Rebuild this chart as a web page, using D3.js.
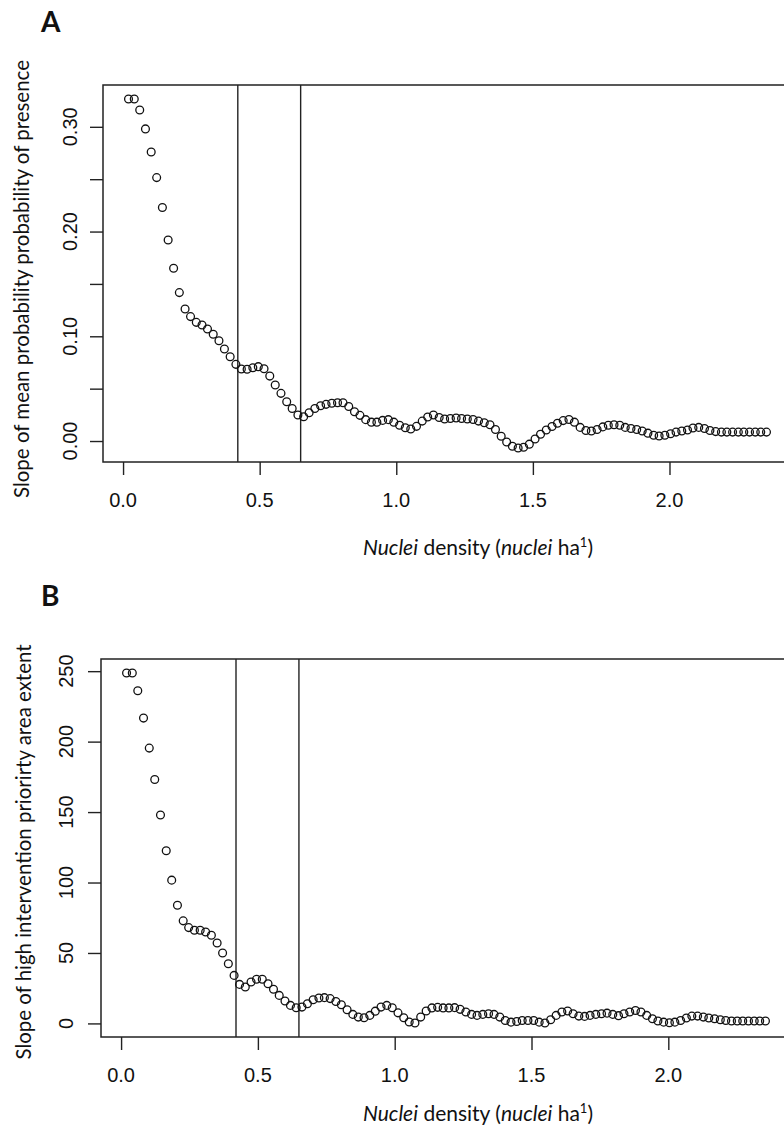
<!DOCTYPE html>
<html>
<head>
<meta charset="utf-8">
<script src="https://cdn.jsdelivr.net/npm/d3@7"></script>
<style>
  body { margin: 0; background: #fff; }
  text { fill: #111; }
  .tick-label { font-family: "Liberation Sans", Arial, sans-serif; font-size: 20px; fill: #111; }
  .tick line { stroke: #222; stroke-width: 1.4; }
  .title { font-family: Lato, "Open Sans", sans-serif; font-size: 21px; }
  .panel-label { font-family: Lato, "Open Sans", sans-serif; font-weight: bold; font-size: 28px; }
</style>
</head>
<body>
<div id="chart"></div>
<script>
var svgWidth = 784;
var svgHeight = 1137;

// nuclei density grid (x of every point, same in both panels)
var density = [
  0.020, 0.041, 0.061, 0.082, 0.103, 0.123, 0.144, 0.165, 0.185, 0.206,
  0.227, 0.247, 0.268, 0.289, 0.309, 0.330, 0.351, 0.371, 0.392, 0.413,
  0.433, 0.454, 0.475, 0.495, 0.516, 0.537, 0.557, 0.578, 0.599, 0.619,
  0.640, 0.661, 0.681, 0.702, 0.723, 0.743, 0.764, 0.785, 0.805, 0.826,
  0.847, 0.867, 0.888, 0.909, 0.929, 0.950, 0.971, 0.991, 1.012, 1.033,
  1.053, 1.074, 1.095, 1.115, 1.136, 1.157, 1.177, 1.198, 1.219, 1.239,
  1.260, 1.281, 1.301, 1.322, 1.343, 1.363, 1.384, 1.404, 1.425, 1.446,
  1.466, 1.487, 1.508, 1.528, 1.549, 1.570, 1.590, 1.611, 1.632, 1.652,
  1.673, 1.694, 1.714, 1.735, 1.756, 1.776, 1.797, 1.818, 1.838, 1.859,
  1.880, 1.900, 1.921, 1.942, 1.962, 1.983, 2.004, 2.024, 2.045, 2.066,
  2.086, 2.107, 2.128, 2.148, 2.169, 2.190, 2.210, 2.231, 2.252, 2.272,
  2.293, 2.314, 2.334, 2.355
];

// panel A: slope of mean probability of presence
var slopePresence = [
  0.3266, 0.3266, 0.316, 0.298, 0.276, 0.2515, 0.223, 0.192, 0.165, 0.1417,
  0.126, 0.1188, 0.1133, 0.1108, 0.107, 0.102, 0.0958, 0.0879, 0.0805, 0.0732,
  0.0688, 0.0685, 0.070, 0.071, 0.069, 0.062, 0.0535, 0.0455, 0.0375, 0.031,
  0.0248, 0.0232, 0.027, 0.031, 0.0337, 0.035, 0.036, 0.0366, 0.0366, 0.033,
  0.028, 0.0245, 0.0204, 0.018, 0.018, 0.0197, 0.0204, 0.018, 0.015, 0.0127,
  0.0115, 0.014, 0.019, 0.023, 0.0248, 0.0225, 0.021, 0.0215, 0.022, 0.0215,
  0.021, 0.0205, 0.019, 0.0175, 0.0155, 0.011, 0.0045, -0.001, -0.005, -0.0067,
  -0.006, -0.003, 0.002, 0.0065, 0.0105, 0.0138, 0.017, 0.0195, 0.0205, 0.018,
  0.013, 0.010, 0.0095, 0.011, 0.0135, 0.015, 0.0155, 0.015, 0.013, 0.012,
  0.011, 0.0095, 0.0075, 0.0055, 0.0048, 0.0055, 0.007, 0.0085, 0.0095, 0.0105,
  0.0125, 0.013, 0.012, 0.010, 0.009, 0.0085, 0.0085, 0.0085, 0.0085, 0.0085,
  0.0085, 0.0085, 0.0085, 0.0085
];

// panel B: slope of high intervention priority area extent
var slopeExtent = [
  248.7, 248.7, 236.1, 216.7, 195.4, 173.1, 147.9, 122.6, 101.7, 83.9,
  72.8, 68.0, 66.1, 66.1, 64.9, 62.6, 57.1, 50.0, 42.4, 34.1,
  27.7, 25.8, 29.4, 31.3, 31.3, 28.2, 24.2, 19.9, 15.9, 12.8,
  11.1, 11.6, 14.0, 16.8, 18.0, 18.3, 17.6, 15.6, 13.3, 9.7,
  6.4, 4.5, 4.0, 5.7, 8.7, 11.6, 12.8, 11.1, 7.5, 4.0,
  1.0, 0.3, 4.5, 8.8, 11.0, 11.4, 11.0, 11.0, 11.2, 10.0,
  8.1, 6.4, 5.7, 6.4, 6.9, 6.4, 4.5, 2.1, 0.9, 1.4,
  2.1, 2.1, 2.1, 0.9, 0.3, 2.6, 5.7, 8.1, 8.8, 6.9,
  5.2, 5.0, 5.7, 6.4, 6.9, 7.3, 6.4, 5.5, 6.9, 8.1,
  9.2, 8.1, 5.7, 3.3, 1.7, 0.9, 0.5, 0.9, 2.1, 3.8,
  5.2, 5.2, 4.5, 3.8, 3.3, 2.6, 2.1, 1.7, 1.7, 1.7,
  1.7, 1.7, 1.7, 1.7
];

var xTicks = [0, 0.5, 1, 1.5, 2];
var thresholds = [0.42, 0.65];

var presenceTicks = [0, 0.05, 0.10, 0.15, 0.20, 0.25, 0.30];
var presenceLabels = [0, 0.10, 0.20, 0.30];
var extentTicks = [0, 50, 100, 150, 200, 250];

var svg = d3.select("#chart")
  .append("svg")
  .attr("width", svgWidth)
  .attr("height", svgHeight);

// R style range: data extent padded by 4% on each side
function padded(values) {
  var lo = d3.min(values), hi = d3.max(values);
  var r = hi - lo;
  return [lo - 0.04 * r, hi + 0.04 * r];
}

function drawPanel(p) {
  var x = d3.scaleLinear()
    .domain(padded(density))
    .range([p.left, p.left + p.width]);

  var y = d3.scaleLinear()
    .domain(padded(p.values))
    .range([p.top + p.height, p.top]);

  var g = svg.append("g");

  // panel letter
  g.append("text")
    .attr("class", "panel-label")
    .attr("x", 41)
    .attr("y", p.top - 53)
    .text(p.label);

  // threshold lines
  g.selectAll(".threshold")
    .data(thresholds)
    .enter()
    .append("line")
    .attr("x1", d => x(d))
    .attr("x2", d => x(d))
    .attr("y1", p.top)
    .attr("y2", p.top + p.height)
    .attr("stroke", "#222")
    .attr("stroke-width", 1.4);

  // points
  g.selectAll("circle")
    .data(density)
    .enter()
    .append("circle")
    .attr("cx", d => x(d))
    .attr("cy", (d, i) => y(p.values[i]))
    .attr("r", 3.9)
    .attr("fill", "none")
    .attr("stroke", "#111")
    .attr("stroke-width", 1.3);

  // box
  g.append("rect")
    .attr("x", p.left)
    .attr("y", p.top)
    .attr("width", p.width)
    .attr("height", p.height)
    .attr("fill", "none")
    .attr("stroke", "#222")
    .attr("stroke-width", 1.5);

  // x axis ticks + labels
  var xAxis = g.append("g")
    .attr("transform", `translate(0, ${p.top + p.height})`)
    .call(d3.axisBottom(x).tickValues(xTicks).tickSize(13).tickFormat(""));
  xAxis.select(".domain").remove();

  g.selectAll(".x-label")
    .data(xTicks)
    .enter()
    .append("text")
    .attr("class", "tick-label")
    .attr("x", d => x(d))
    .attr("y", p.top + p.height + 45)
    .attr("text-anchor", "middle")
    .text(d3.format(".1f"));

  // y axis ticks, labels drawn parallel to the axis
  var yAxis = g.append("g")
    .attr("transform", `translate(${p.left}, 0)`)
    .call(d3.axisLeft(y).tickValues(p.ticks).tickSize(13).tickFormat(""));
  yAxis.select(".domain").remove();

  g.selectAll(".y-label")
    .data(p.labels)
    .enter()
    .append("text")
    .attr("class", "tick-label")
    .attr("transform", d => `translate(${p.labelX}, ${y(d)}) rotate(-90)`)
    .attr("text-anchor", "middle")
    .text(p.format);

  // axis titles
  var xt = g.append("text")
    .attr("class", "title")
    .attr("x", 478)
    .attr("y", p.xTitleY)
    .attr("text-anchor", "middle");
  xt.append("tspan").attr("font-style", "italic").text("Nuclei");
  xt.append("tspan").text(" density (");
  xt.append("tspan").attr("font-style", "italic").text("nuclei");
  xt.append("tspan").text(" ha");
  xt.append("tspan").attr("dy", -8).attr("font-size", "13px").text("1");
  xt.append("tspan").attr("dy", 8).text(")");

  g.append("text")
    .attr("class", "title")
    .attr("transform", `translate(${p.yTitleX}, ${p.yTitleY}) rotate(-90)`)
    .attr("text-anchor", "middle")
    .attr("textLength", p.yTitleLength)
    .attr("lengthAdjust", "spacingAndGlyphs")
    .text(p.yTitle);
}

drawPanel({
  label: "A",
  values: slopePresence,
  left: 103, top: 85, width: 689, height: 377,
  ticks: presenceTicks,
  labels: presenceLabels,
  format: d3.format(".2f"),
  labelX: 77,
  xTitleY: 555,
  yTitle: "Slope of mean probability probability of presence",
  yTitleX: 29, yTitleY: 279, yTitleLength: 438
});

drawPanel({
  label: "B",
  values: slopeExtent,
  left: 101, top: 659, width: 690, height: 378,
  ticks: extentTicks,
  labels: extentTicks,
  format: d3.format("d"),
  labelX: 73,
  xTitleY: 1121,
  yTitle: "Slope of high intervention priorirty area extent",
  yTitleX: 31, yTitleY: 852, yTitleLength: 415
});
</script>
</body>
</html>
